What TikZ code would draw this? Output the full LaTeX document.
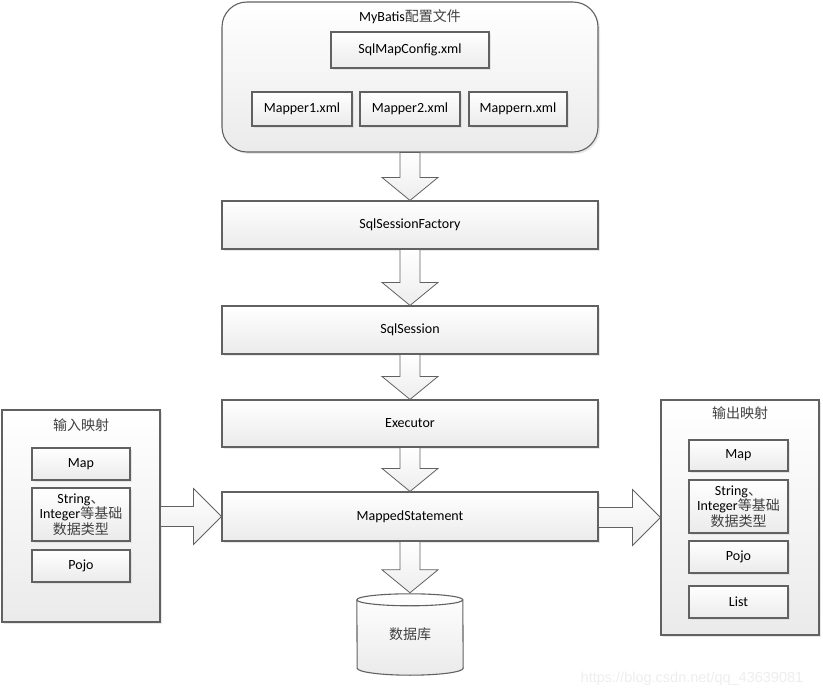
\documentclass[tikz,border=0pt]{standalone}
\usepackage{fontspec}
\setmainfont{Carlito}
\newfontfamily\cjk{Noto Sans CJK SC}
\newfontfamily\wmfont{Liberation Sans}
\usetikzlibrary{calc,shadows}
\newcommand{\zh}[1]{{\cjk\color{black!75}#1}}
\newcommand{\downblk}[2]{%
  \path[blockarrow] let \p1=(#1.south), \p2=(#2.north) in
    (\x1-10,\y1) -- (\x1-10,\y2+23) -- (\x1-28,\y2+23) -- (\x1,\y2)
    -- (\x1+28,\y2+23) -- (\x1+10,\y2+23) -- (\x1+10,\y1) -- cycle;}
\newcommand{\rightblk}[2]{%
  \path[blockarrow] let \p1=(#1.east), \p2=(#2.west) in
    (\x1,\y2+10) -- (\x2-28,\y2+10) -- (\x2-28,\y2+28) -- (\x2,\y2)
    -- (\x2-28,\y2-28) -- (\x2-28,\y2-10) -- (\x1,\y2-10) -- cycle;}

\begin{document}
\begin{tikzpicture}[x=1pt, y=1pt, font=\fontsize{14}{15.5}\selectfont,
    line/.style={draw=black!62, line width=1.1pt},
    box/.style={line, top color=white, bottom color=black!8, inner sep=0pt,
      align=center, drop shadow={shadow xshift=2pt, shadow yshift=-2pt, fill=black!18}},
    blockarrow/.style={line, line width=0.8pt, top color=white, bottom color=black!7},
    title/.style={inner sep=0pt}]
    \useasboundingbox (0,0) rectangle (823,-698);

    % configuration files
    \node (cfgfile) [box, rounded corners=25pt, minimum width=376, minimum height=150] at (410,-77) {};
    \node (cfgtitle) [title] at (410,-17) {MyBatis\zh{配置文件}};
    \node (sqlmapcfg) [box, minimum width=158, minimum height=36] at (410,-50) {SqlMapConfig.xml};
    \node (mapper1) [box, minimum width=100, minimum height=34] at (302,-109) {Mapper1.xml};
    \node (mapper2) [box, minimum width=100, minimum height=34] at (410,-109) {Mapper2.xml};
    \node (mappern) [box, minimum width=98, minimum height=34] at (518,-109) {Mappern.xml};

    % main chain
    \node (factory) [box, minimum width=376, minimum height=48] at (410,-225) {SqlSessionFactory};
    \node (session) [box, minimum width=376, minimum height=48] at (410,-330) {SqlSession};
    \node (executor) [box, minimum width=376, minimum height=47] at (410,-423.5) {Executor};
    \node (mapped) [box, minimum width=376, minimum height=49] at (410,-516.5) {MappedStatement};
    \node (db) [title, minimum width=106, minimum height=82] at (410,-634) {};

    % input mapping
    \node (inmap) [box, minimum width=158, minimum height=212] at (81,-516) {};
    \node (intitle) [title] at (81,-425) {\zh{输入映射}};
    \node (inmapk) [box, minimum width=98, minimum height=32] at (81,-464) {Map};
    \node (instr) [box, minimum width=98, minimum height=53] at (81,-514.5) {String\zh{、}\\Integer\zh{等基础}\\\zh{数据类型}};
    \node (inpojo) [box, minimum width=98, minimum height=32] at (81,-566) {Pojo};

    % output mapping
    \node (outmap) [box, minimum width=158, minimum height=235] at (740,-517.5) {};
    \node (outtitle) [title] at (740,-413) {\zh{输出映射}};
    \node (outmapk) [box, minimum width=99, minimum height=31] at (738.5,-455.5) {Map};
    \node (outstr) [box, minimum width=99, minimum height=53] at (738.5,-506.5) {String\zh{、}\\Integer\zh{等基础}\\\zh{数据类型}};
    \node (outpojo) [box, minimum width=99, minimum height=32] at (738.5,-557) {Pojo};
    \node (outlist) [box, minimum width=99, minimum height=32] at (738.5,-602) {List};

    % database
    \path[line, top color=white, bottom color=black!8]
        ($(db.north west)+(0,-7)$) arc[start angle=180, end angle=0, x radius=53, y radius=6]
        -- ($(db.south east)+(0,7)$) arc[start angle=0, end angle=-180, x radius=53, y radius=7]
        -- cycle;
    \draw[line] ($(db.north west)+(0,-7)$) arc[start angle=180, end angle=360, x radius=53, y radius=6];
    \node (dblabel) [title] at (db.center) {\zh{数据库}};

    \downblk{cfgfile}{factory}
    \downblk{factory}{session}
    \downblk{session}{executor}
    \downblk{executor}{mapped}
    \downblk{mapped}{db}
    \rightblk{inmap}{mapped}
    \rightblk{mapped}{outmap}

    \node (mark) [title, text=black!7, font=\wmfont\fontsize{14.5}{16}\selectfont] at (692,-679) {https://blog.csdn.net/qq\_43639081};
\end{tikzpicture}
\end{document}
